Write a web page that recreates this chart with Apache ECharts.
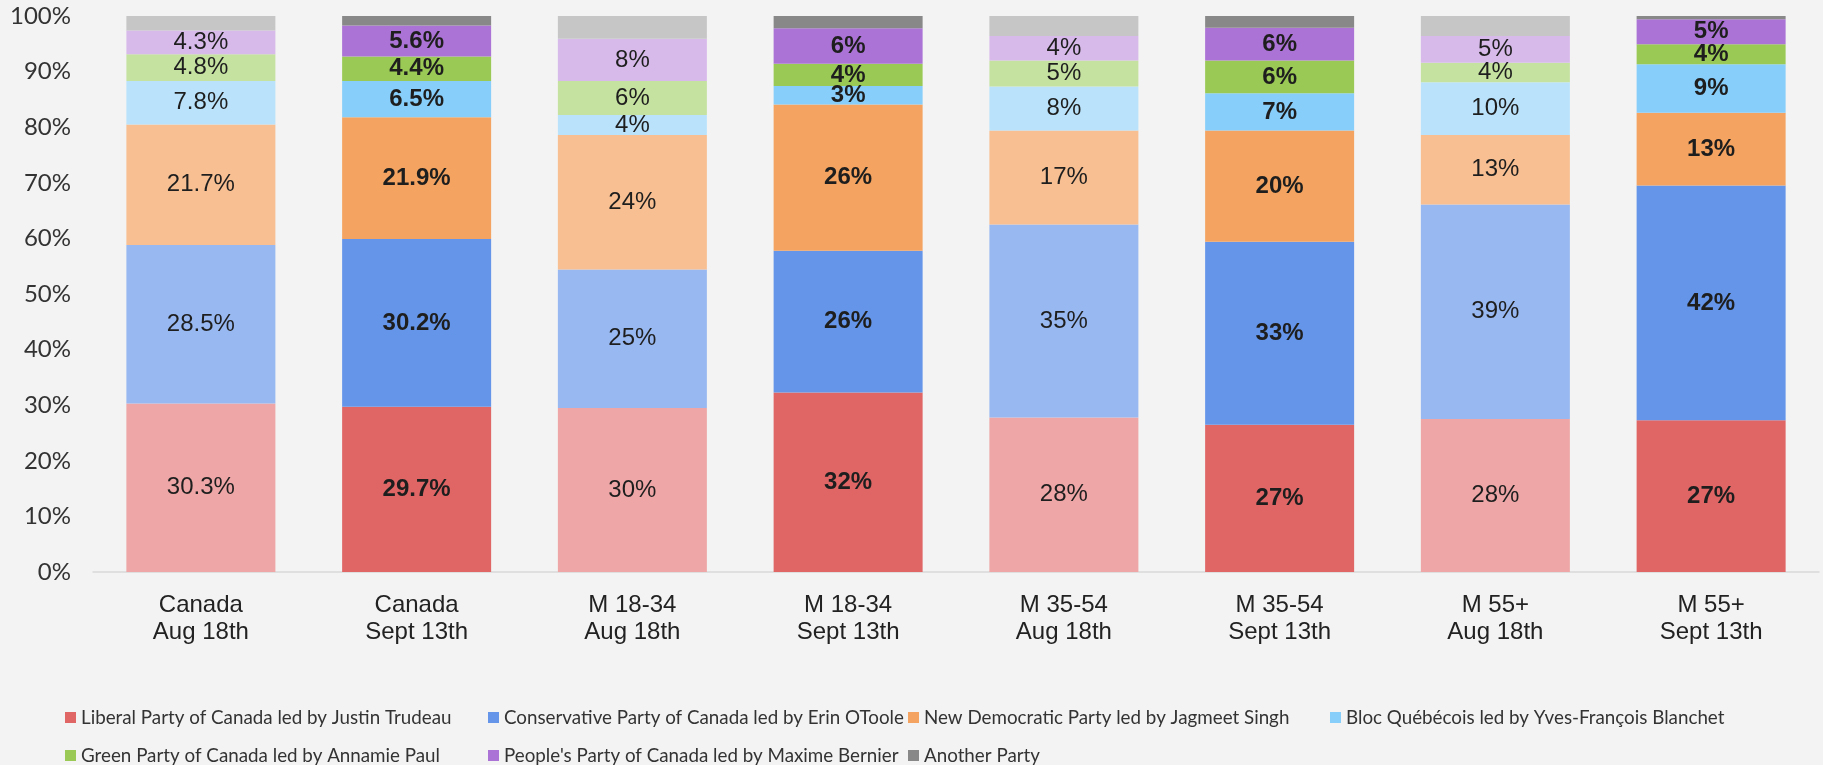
<!DOCTYPE html>
<html>
<head>
<meta charset="utf-8">
<script src="https://cdn.jsdelivr.net/npm/echarts@6/dist/echarts.min.js"></script>
<style>
html,body{margin:0;padding:0;background:#F3F3F3;}
#chart{width:1823px;height:765px;}
</style>
</head>
<body>
<div id="chart"></div>
<script>
// ---- data ----
var categories = ['Canada\nAug 18th','Canada\nSept 13th','M 18-34\nAug 18th','M 18-34\nSept 13th','M 35-54\nAug 18th','M 35-54\nSept 13th','M 55+\nAug 18th','M 55+\nSept 13th'];
var seriesNames = ['Liberal Party of Canada led by Justin Trudeau','Conservative Party of Canada led by Erin OToole','New Democratic Party led by Jagmeet Singh','Bloc Québécois led by Yves-François Blanchet','Green Party of Canada led by Annamie Paul',"People's Party of Canada led by Maxime Bernier",'Another Party'];
var liberal      = [30.3, 29.7, 29.5, 32.3, 27.8, 26.5, 27.5, 27.3];
var conservative = [28.5, 30.2, 24.9, 25.5, 34.7, 32.9, 38.6, 42.2];
var ndp          = [21.7, 21.9, 24.2, 26.3, 16.9, 20.0, 12.5, 13.1];
var bloc         = [7.8, 6.5, 3.6, 3.3, 7.9, 6.7, 9.5, 8.7];
var green        = [4.8, 4.4, 6.1, 4.0, 4.7, 5.9, 3.5, 3.6];
var ppc          = [4.3, 5.6, 7.6, 6.4, 4.4, 5.9, 4.8, 4.5];
var another      = [2.6, 1.7, 4.1, 2.2, 3.6, 2.1, 3.6, 0.6];
var labelDecimals = [1, 1, 0, 0, 0, 0, 0, 0];
var yTicks = [0,10,20,30,40,50,60,70,80,90,100];

// ---- styles ----
var fullColors  = ['#E06666','#6595E9','#F4A460','#87CEFA','#9ACA55','#AB73D5','#888888'];
var lightColors = ['#EEA6A6','#98B8F1','#F7BF92','#BAE3FB','#C5E2A0','#D7BAEA','#C6C6C6'];
var allValues = [liberal, conservative, ndp, bloc, green, ppc, another];

var series = allValues.map(function (vals, si) {
  return {
    name: seriesNames[si],
    type: 'bar',
    stack: 'total',
    barWidth: 149,
    itemStyle: { color: fullColors[si] },
    label: {
      show: si < 6,
      position: 'inside',
      fontFamily: 'Liberation Sans',
      fontSize: 24,
      color: '#1E1E1E',
      formatter: function (p) {
        return p.value.toFixed(labelDecimals[p.dataIndex]) + '%';
      }
    },
    data: vals.map(function (v, i) {
      var sept = i % 2 === 1;
      return {
        value: v,
        itemStyle: { color: sept ? fullColors[si] : lightColors[si] },
        label: { fontWeight: sept ? 'bold' : 'normal' }
      };
    })
  };
});

function legendFor(names, left) {
  return {
    orient: 'vertical',
    left: left,
    top: 708,
    height: 80,
    padding: 0,
    itemWidth: 11,
    itemHeight: 11,
    itemGap: 19,
    icon: 'rect',
    selectedMode: false,
    textStyle: { fontFamily: 'Lato', fontSize: 18.8, color: '#333', lineHeight: 19 },
    data: names.map(function (n) {
      return { name: n, itemStyle: { color: fullColors[seriesNames.indexOf(n)] } };
    })
  };
}

var chart = echarts.init(document.getElementById('chart'), null, { renderer: 'canvas' });
chart.setOption({
  backgroundColor: '#F3F3F3',
  animation: false,
  grid: { left: 93, right: 4, top: 16, bottom: 193, containLabel: false },
  legend: [
    legendFor([seriesNames[0], seriesNames[4]], 65),
    legendFor([seriesNames[1], seriesNames[5]], 488),
    legendFor([seriesNames[2], seriesNames[6]], 908),
    legendFor([seriesNames[3]], 1330)
  ],
  xAxis: {
    type: 'category',
    data: categories,
    axisTick: { show: false },
    axisLine: { lineStyle: { color: '#D9D9D9', width: 1.5 } },
    axisLabel: { fontFamily: 'Liberation Sans', fontSize: 24, color: '#222', lineHeight: 27, margin: 20, interval: 0 }
  },
  yAxis: {
    type: 'value',
    min: yTicks[0],
    max: yTicks[yTicks.length - 1],
    interval: yTicks[1] - yTicks[0],
    splitLine: { show: false },
    axisLine: { show: false },
    axisTick: { show: false },
    axisLabel: { fontFamily: 'Lato', fontSize: 24, color: '#333', margin: 22, formatter: '{value}%' }
  },
  series: series
});
</script>
</body>
</html>
